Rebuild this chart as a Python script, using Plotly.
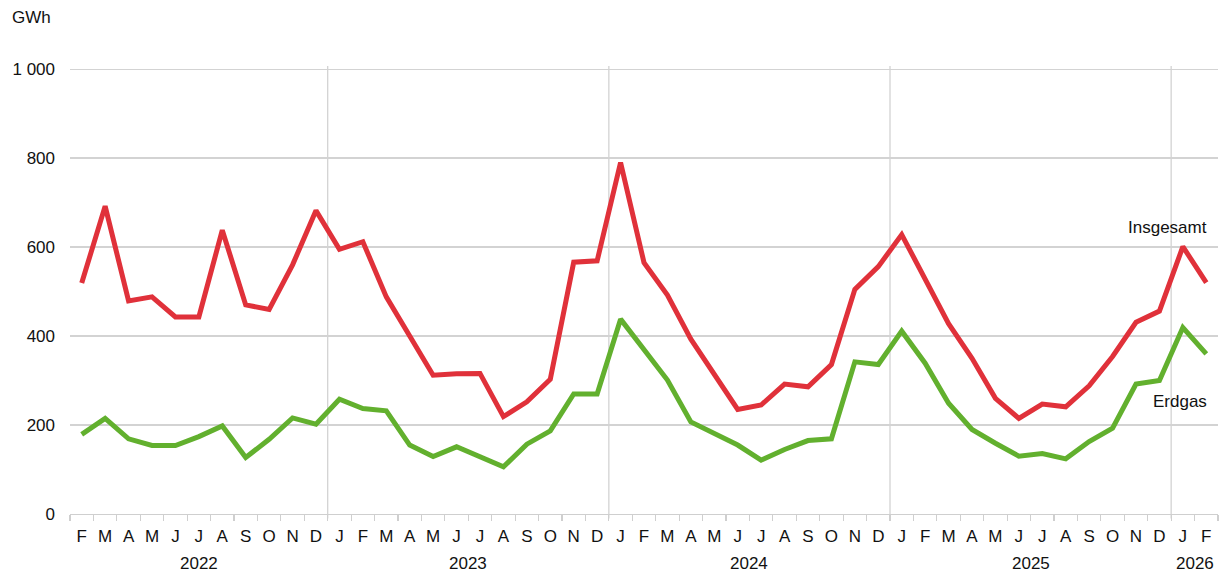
import plotly.graph_objects as go

months = ["F","M","A","M","J","J","A","S","O","N","D",
          "J","F","M","A","M","J","J","A","S","O","N","D",
          "J","F","M","A","M","J","J","A","S","O","N","D",
          "J","F","M","A","M","J","J","A","S","O","N","D",
          "J","F"]
years = ["2022", "2023", "2024", "2025", "2026"]
year_centers = [5, 16.5, 28.5, 40.5, 47.5]
year_bounds = [10.5, 22.5, 34.5, 46.5]

insgesamt = [519, 692, 479, 488, 443, 443, 638, 470, 460, 560, 682,
             595, 612, 488, 400, 312, 315, 316, 219, 252, 303, 566, 569,
             790, 565, 492, 393, 315, 235, 245, 292, 286, 336, 505, 556,
             628, 526, 428, 350, 260, 215, 247, 241, 288, 354, 431, 456,
             601, 520]
erdgas = [179, 215, 169, 154, 154, 174, 198, 127, 168, 216, 202,
          258, 237, 232, 155, 129, 151, 130, 106, 157, 187, 270, 270,
          438, 369, 301, 207, 181, 155, 121, 145, 165, 169, 342, 336,
          411, 339, 249, 190, 159, 130, 136, 124, 163, 193, 292, 300,
          419, 360]

x = list(range(len(months)))
RED = "#E0313A"
GREEN = "#62B02E"
FONT = "Liberation Sans, Arial, sans-serif"
FS = 17

fig = go.Figure()
fig.add_trace(go.Scatter(x=x, y=insgesamt, mode="lines", name="Insgesamt",
                         line=dict(color=RED, width=5), showlegend=False))
fig.add_trace(go.Scatter(x=x, y=erdgas, mode="lines", name="Erdgas",
                         line=dict(color=GREEN, width=5), showlegend=False))

for b in year_bounds:
    fig.add_shape(type="line", xref="x", yref="paper", x0=b, x1=b, y0=-0.01, y1=1,
                  line=dict(color="#CFCFCF", width=1.2), layer="below")

for yv, yl in zip(year_centers, years):
    fig.add_annotation(x=yv, y=0, xref="x", yref="paper", text=yl, showarrow=False,
                       yshift=-49, yanchor="middle", font=dict(size=FS, color="#111", family=FONT))

fig.add_annotation(x=-0.052, y=1.109, xref="paper", yref="paper", text="GWh", showarrow=False,
                   xanchor="left", yanchor="middle", font=dict(size=FS, color="#111", family=FONT))

fig.add_annotation(x=48.1, y=645, xref="x", yref="y", text="Insgesamt", showarrow=False,
                   xanchor="right", yanchor="middle", font=dict(size=FS, color="#111", family=FONT))
fig.add_annotation(x=48.1, y=254, xref="x", yref="y", text="Erdgas", showarrow=False,
                   xanchor="right", yanchor="middle", font=dict(size=FS, color="#111", family=FONT))

fig.update_layout(
    width=1225, height=576,
    margin=dict(l=70, r=7, t=66, b=62),
    paper_bgcolor="white", plot_bgcolor="white",
    font=dict(family=FONT, size=FS, color="#111"),
    hovermode=False,
    xaxis=dict(range=[-0.5, 48.5], tickmode="array", tickvals=x, ticktext=months,
               showgrid=False, zeroline=False, showline=True, linecolor="#CFCFCF",
               linewidth=1.2, ticks="", tickfont=dict(size=FS), automargin=False,
               ticklabelstandoff=6, fixedrange=True,
               minor=dict(ticks="outside", tick0=-0.5, dtick=1, ticklen=6,
                          tickcolor="#CFCFCF", tickwidth=1.2, showgrid=False)),
    yaxis=dict(range=[0, 1007], tickmode="array", tickvals=[0, 200, 400, 600, 800, 1000],
               ticktext=["0", "200", "400", "600", "800", "1 000"],
               showgrid=True, gridcolor="#D3D3D3", gridwidth=1.2, zeroline=False,
               showline=False, ticks="", ticklabelstandoff=14, tickfont=dict(size=FS),
               automargin=False, fixedrange=True),
)

fig.write_html("out.html", config={"displayModeBar": False, "staticPlot": True},
               post_script="document.body.style.margin='0px';document.body.style.padding='0px';")
